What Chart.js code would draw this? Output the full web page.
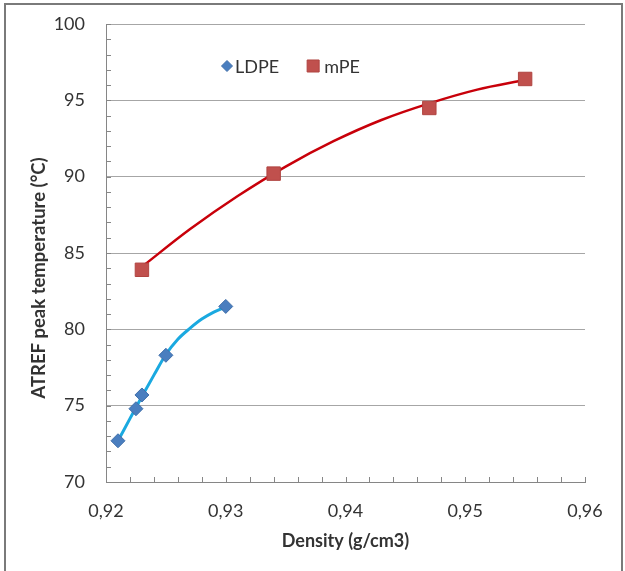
<!DOCTYPE html>
<html>
<head>
<meta charset="utf-8">
<script src="https://cdn.jsdelivr.net/npm/chart.js@4"></script>
<style>
  html, body { margin: 0; padding: 0; background: #ffffff; }
  #wrap { width: 625px; height: 571px; position: relative; }
</style>
</head>
<body>
<div id="wrap"><canvas id="chart" width="625" height="571"></canvas></div>
<script>
// ATREF peak temperature versus density for two polyethylene families
const ldpeDensity = [0.921, 0.9225, 0.923, 0.925, 0.930];
const ldpeTemp    = [72.7, 74.8, 75.7, 78.3, 81.5];
const mpeDensity  = [0.923, 0.934, 0.947, 0.955];
const mpeTemp     = [83.9, 90.2, 94.5, 96.4];

// fitted trend curves, sampled along their length
const ldpeTrendDensity = [0.921, 0.922, 0.923, 0.924, 0.925, 0.926, 0.927, 0.928, 0.929, 0.930];
const ldpeTrendTemp    = [72.7, 74.15, 75.6, 77.0, 78.35, 79.35, 80.06, 80.67, 81.13, 81.47];
const mpeTrendDensity  = [0.923, 0.927, 0.931, 0.935, 0.939, 0.943, 0.947, 0.951, 0.955];
const mpeTrendTemp     = [84.1, 86.55, 88.73, 90.66, 92.32, 93.71, 94.8, 95.7, 96.33];

const seriesNames = ['LDPE', 'mPE'];
const xTitle = 'Density (g/cm3)';
const yTitle = 'ATREF peak temperature (°C)';

const xRange = [0.92, 0.96];
const xMajor = 0.01;
const xMinor = 0.002;
const yRange = [70, 100];
const yMajor = 5;
const yMinor = 1;

const FONT = 'Lato, "Open Sans", sans-serif';
const TEXT = '#333333';
const AXIS = '#868686';
const GRID = '#a6a6a6';

const toPoints = (xs, ys) => xs.map((x, i) => ({ x: x, y: ys[i] }));

// frame around the whole figure
const framePlugin = {
  id: 'frame',
  beforeDraw(chart) {
    const { ctx, width, height } = chart;
    ctx.save();
    ctx.strokeStyle = '#7a7a7a';
    ctx.lineWidth = 2;
    ctx.beginPath();
    ctx.moveTo(5, height);
    ctx.lineTo(5, 4);
    ctx.lineTo(width - 3, 4);
    ctx.lineTo(width - 3, height);
    ctx.stroke();
    ctx.restore();
  }
};

// small inward tick marks along both axes, plus the vertical axis title
const axisDecorPlugin = {
  id: 'axisDecor',
  afterDraw(chart) {
    const { ctx, chartArea, scales } = chart;
    const len = 5;
    ctx.save();
    ctx.strokeStyle = AXIS;
    ctx.lineWidth = 1;
    ctx.beginPath();
    const nx = Math.round((xRange[1] - xRange[0]) / xMinor);
    for (let k = 0; k <= nx; k++) {
      const px = Math.round(scales.x.getPixelForValue(xRange[0] + k * xMinor)) + 0.5;
      ctx.moveTo(px, chartArea.bottom);
      ctx.lineTo(px, chartArea.bottom - len);
    }
    const ny = Math.round((yRange[1] - yRange[0]) / yMinor);
    for (let k = 0; k <= ny; k++) {
      const py = Math.round(scales.y.getPixelForValue(yRange[0] + k * yMinor)) + 0.5;
      ctx.moveTo(chartArea.left, py);
      ctx.lineTo(chartArea.left + len, py);
    }
    ctx.stroke();

    // y axis title, rotated
    ctx.translate(39, chartArea.top + 254);
    ctx.rotate(-Math.PI / 2);
    ctx.font = 'bold 18.5px ' + FONT;
    ctx.fillStyle = TEXT;
    ctx.textAlign = 'center';
    ctx.textBaseline = 'middle';
    ctx.fillText(yTitle, 0, 0);
    ctx.restore();
  }
};

// legend drawn inside the plot area, markers only
const innerLegendPlugin = {
  id: 'innerLegend',
  afterDraw(chart) {
    const { ctx, chartArea } = chart;
    const y = chartArea.top + 42;
    let x = chartArea.left + 121;
    ctx.save();
    ctx.font = '18px ' + FONT;
    ctx.textBaseline = 'middle';
    chart.data.datasets.filter(ds => ds.inLegend).forEach((ds) => {
      const style = ds.pointStyle;
      const diamond = style === 'rectRot';
      ctx.save();
      ctx.fillStyle = ds.pointBackgroundColor;
      ctx.strokeStyle = ds.pointBorderColor;
      ctx.lineWidth = 1;
      Chart.helpers.drawPoint(ctx, {
        pointStyle: style,
        radius: diamond ? 5.5 : 8.5,
        rotation: 0,
        borderWidth: 1
      }, x, y);
      ctx.restore();
      const tx = x + (diamond ? 8 : 11);
      ctx.textAlign = 'left';
      ctx.fillStyle = TEXT;
      ctx.fillText(ds.label, tx, y + 1);
      x = tx + ctx.measureText(ds.label).width + 34;
    });
    ctx.restore();
  }
};

new Chart(document.getElementById('chart'), {
  type: 'scatter',
  data: {
    datasets: [
      {
        label: seriesNames[0],
        inLegend: true,
        data: toPoints(ldpeDensity, ldpeTemp),
        showLine: false,
        pointStyle: 'rectRot',
        pointRadius: 7,
        pointBackgroundColor: '#4a7ebf',
        pointBorderColor: '#3f6ea9',
        pointBorderWidth: 1
      },
      {
        label: seriesNames[1],
        inLegend: true,
        data: toPoints(mpeDensity, mpeTemp),
        showLine: false,
        pointStyle: 'rect',
        pointRadius: 9.5,
        pointBackgroundColor: '#c0504d',
        pointBorderColor: '#b04440',
        pointBorderWidth: 1
      },
      {
        label: seriesNames[0] + ' trend',
        data: toPoints(ldpeTrendDensity, ldpeTrendTemp),
        showLine: true,
        cubicInterpolationMode: 'monotone',
        borderColor: '#1aa9e0',
        borderWidth: 3,
        pointRadius: 0
      },
      {
        label: seriesNames[1] + ' trend',
        data: toPoints(mpeTrendDensity, mpeTrendTemp),
        showLine: true,
        cubicInterpolationMode: 'monotone',
        borderColor: '#c8000a',
        borderWidth: 2.5,
        pointRadius: 0
      }
    ]
  },
  options: {
    responsive: false,
    animation: false,
    devicePixelRatio: 1,
    layout: { padding: { left: 26, right: 40, top: 24, bottom: 19 } },
    plugins: {
      legend: { display: false },
      tooltip: { enabled: false }
    },
    scales: {
      x: {
        type: 'linear',
        min: xRange[0],
        max: xRange[1],
        afterFit(scale) { scale.height = 70; },
        ticks: {
          stepSize: xMajor,
          padding: 18,
          color: TEXT,
          font: { family: FONT, size: 18 },
          maxRotation: 0,
          callback: (v) => Number(v).toFixed(2).replace('.', ',')
        },
        grid: { display: false, drawTicks: false },
        border: { display: true, color: AXIS, width: 1 },
        title: {
          display: true,
          text: xTitle,
          color: TEXT,
          padding: { top: 0, bottom: 0 },
          font: { family: FONT, size: 18, weight: 'bold' }
        }
      },
      y: {
        type: 'linear',
        min: yRange[0],
        max: yRange[1],
        afterFit(scale) {
          scale.width = 80;
          scale.paddingTop = 0;
          scale.paddingBottom = 0;
        },
        ticks: {
          stepSize: yMajor,
          padding: 21,
          color: TEXT,
          font: { family: FONT, size: 18 }
        },
        grid: { color: GRID, lineWidth: 1, drawTicks: false },
        border: { display: true, color: AXIS, width: 1 }
      }
    }
  },
  plugins: [framePlugin, axisDecorPlugin, innerLegendPlugin]
});
</script>
</body>
</html>
